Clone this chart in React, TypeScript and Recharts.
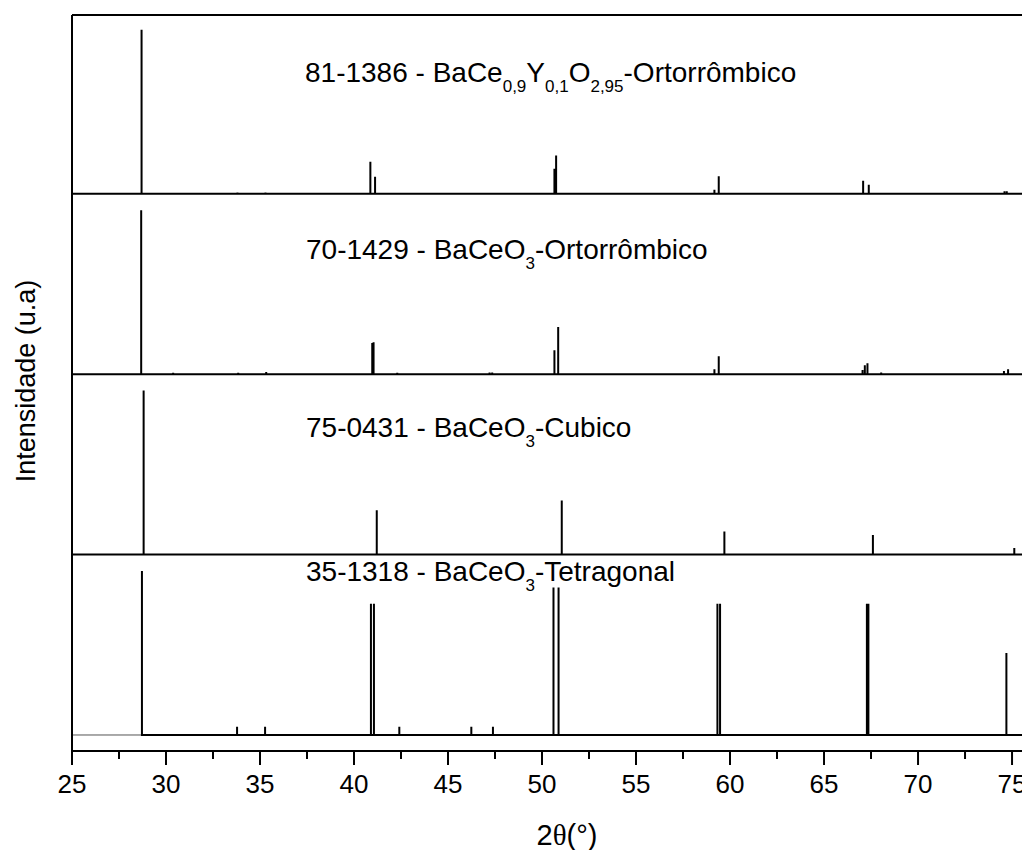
import { LineChart, Line, XAxis, YAxis, ReferenceLine } from "recharts";

// 2θ range and ticks
const xMin = 25;
const xMax = 75.53;
const yMin = -9.76;
const yMax = 439;
const xTicks = [
  25, 27.5, 30, 32.5, 35, 37.5, 40, 42.5, 45, 47.5, 50, 52.5, 55, 57.5, 60,
  62.5, 65, 67.5, 70, 72.5, 75,
];
const majorTicks = [25, 30, 35, 40, 45, 50, 55, 60, 65, 70, 75];

// vertical offsets of each pattern (stacked)
const offsets = [330, 220, 110, 0];

// 81-1386 - BaCe0,9Y0,1O2,95 - Ortorrombico
const p1Pos = [28.7, 33.8, 35.29, 40.87, 41.12, 50.66, 50.75, 59.17, 59.4, 67.08, 67.38, 74.6, 74.72];
const p1Int = [100, 0.8, 0.8, 19.5, 10.4, 15.2, 23.4, 2.5, 10.7, 8, 5.5, 1.5, 1.5];

// 70-1429 - BaCeO3 - Ortorrombico
const p2Pos = [28.68, 30.38, 33.84, 35.33, 40.97, 41.04, 42.3, 47.21, 47.35, 50.66, 50.86, 59.17, 59.4, 67.05, 67.17, 67.31, 68.04, 74.57, 74.79];
const p2Int = [100, 0.8, 0.8, 1.3, 19, 19.5, 0.8, 1, 1, 14.6, 28.7, 3, 11, 2.5, 5.5, 6.7, 1, 2, 3];

// 75-0431 - BaCeO3 - Cubico
const p3Pos = [28.81, 35.47, 41.21, 51.05, 59.7, 67.6, 75.12];
const p3Int = [100, 0.7, 27, 33, 14, 12, 4];

// 35-1318 - BaCeO3 - Tetragonal
const p4Pos = [28.72, 33.78, 35.27, 40.9, 41.06, 42.41, 46.24, 47.39, 50.61, 50.88, 59.33, 59.47, 67.28, 67.36, 74.7];
const p4Int = [100, 5, 5, 80, 80, 5, 5, 5, 90, 90, 80, 80, 80, 80, 50];

function sticks(pos: number[], int: number[], off: number, start: number) {
  const pts: { x: number; y: number }[] = [{ x: start, y: off }];
  pos.forEach((p, i) => {
    pts.push({ x: p, y: off }, { x: p, y: off + int[i] }, { x: p, y: off });
  });
  pts.push({ x: xMax, y: off });
  return pts;
}

const font = "'Liberation Sans', Arial, sans-serif";

function AxisTick(props: any) {
  const { x, y, payload } = props;
  const major = majorTicks.includes(payload.value);
  return (
    <g>
      <line x1={x} x2={x} y1={y} y2={y + (major ? 14 : 8)} stroke="#000" strokeWidth={2} />
      {major && (
        <text x={x} y={y + 42} textAnchor="middle" fontSize={26} fontFamily={font} fill="#000">
          {payload.value}
        </text>
      )}
    </g>
  );
}

export default function App() {
  const s1 = sticks(p1Pos, p1Int, offsets[0], xMin);
  const s2 = sticks(p2Pos, p2Int, offsets[1], xMin);
  const s3 = sticks(p3Pos, p3Int, offsets[2], xMin);
  const s4 = sticks(p4Pos, p4Int, offsets[3], p4Pos[0]);
  const lead = [
    { x: xMin, y: offsets[3] },
    { x: p4Pos[0], y: offsets[3] },
  ];

  const sub = { fontSize: 17 };

  return (
    <div style={{ position: "relative", width: 1022, height: 850 }}>
      <style>{"body{margin:0;overflow:hidden}"}</style>
      <LineChart width={1022} height={850} margin={{ top: 15, right: 0, bottom: 39, left: 0 }}>
        <XAxis
          dataKey="x"
          type="number"
          domain={[xMin, xMax]}
          allowDataOverflow
          ticks={xTicks}
          interval={0}
          tickSize={0}
          tickMargin={0}
          tick={<AxisTick />}
          height={60}
          axisLine={{ stroke: "#000", strokeWidth: 2 }}
        />
        <YAxis
          type="number"
          domain={[yMin, yMax]}
          allowDataOverflow
          width={72}
          tick={false}
          tickLine={false}
          axisLine={{ stroke: "#000", strokeWidth: 2 }}
        />
        <ReferenceLine y={yMax} stroke="#000" strokeWidth={2} ifOverflow="visible" />
        <Line data={lead} dataKey="y" stroke="#555" strokeWidth={1} dot={false} isAnimationActive={false} />
        <Line data={s1} dataKey="y" stroke="#000" strokeWidth={2} dot={false} isAnimationActive={false} />
        <Line data={s2} dataKey="y" stroke="#000" strokeWidth={2} dot={false} isAnimationActive={false} />
        <Line data={s3} dataKey="y" stroke="#000" strokeWidth={2} dot={false} isAnimationActive={false} />
        <Line data={s4} dataKey="y" stroke="#000" strokeWidth={2} dot={false} isAnimationActive={false} />
      </LineChart>
      <svg
        width={1022}
        height={850}
        style={{ position: "absolute", left: 0, top: 0, pointerEvents: "none" }}
        fontFamily={font}
        fontSize={28}
        fill="#000"
      >
        <text x={305} y={82}>
          81-1386 - BaCe
          <tspan dy={10} {...sub}>0,9</tspan>
          <tspan dy={-10}>Y</tspan>
          <tspan dy={10} {...sub}>0,1</tspan>
          <tspan dy={-10}>O</tspan>
          <tspan dy={10} {...sub}>2,95</tspan>
          <tspan dy={-10}>-Ortorrômbico</tspan>
        </text>
        <text x={306} y={259}>
          70-1429 - BaCeO
          <tspan dy={10} {...sub}>3</tspan>
          <tspan dy={-10}>-Ortorrômbico</tspan>
        </text>
        <text x={306} y={437}>
          75-0431 - BaCeO
          <tspan dy={10} {...sub}>3</tspan>
          <tspan dy={-10}>-Cubico</tspan>
        </text>
        <text x={306} y={581}>
          35-1318 - BaCeO
          <tspan dy={10} {...sub}>3</tspan>
          <tspan dy={-10}>-Tetragonal</tspan>
        </text>
        <text x={35} y={381} textAnchor="middle" fontSize={27} transform="rotate(-90 35 381)">
          Intensidade (u.a)
        </text>
        <text x={567} y={845} textAnchor="middle" fontSize={29}>
          2<tspan fontFamily="'Liberation Serif', serif">θ</tspan>(°)
        </text>
      </svg>
    </div>
  );
}
